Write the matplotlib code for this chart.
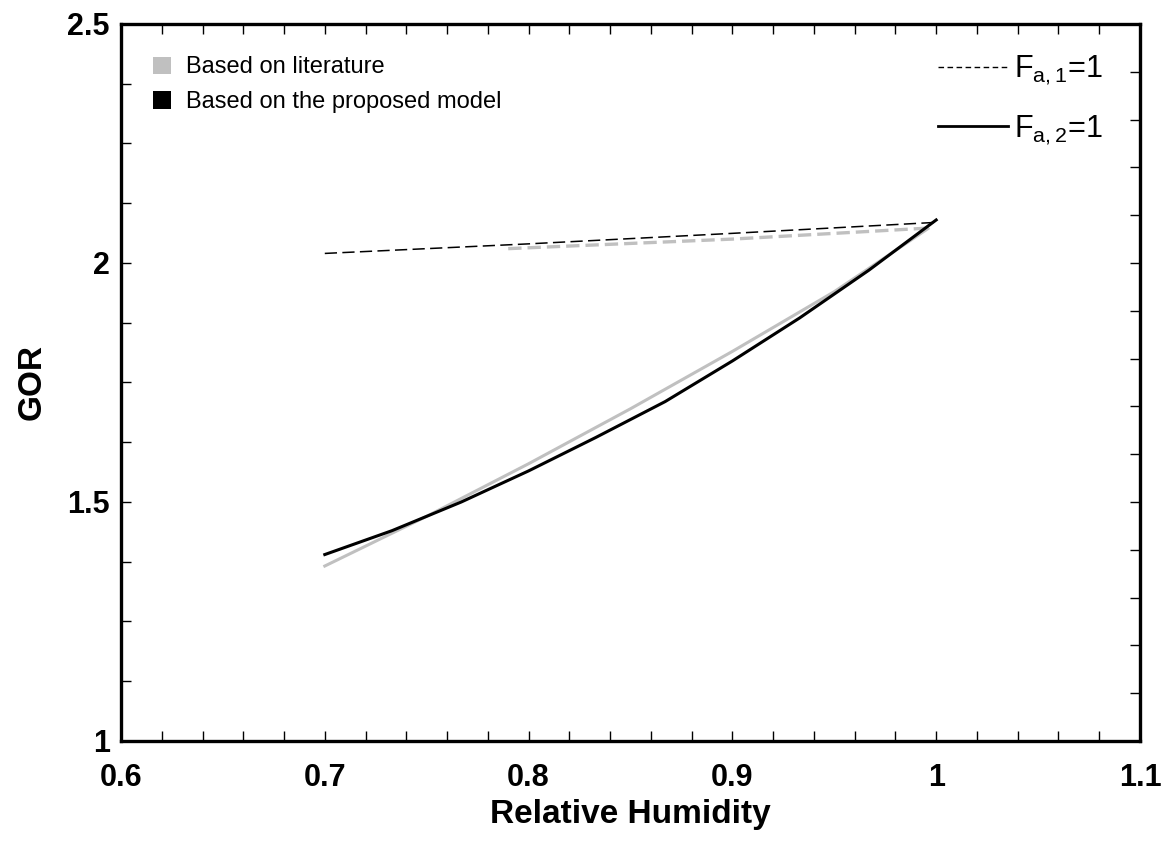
import numpy as np
import matplotlib
matplotlib.use("Agg")
import matplotlib.pyplot as plt
from matplotlib.patches import Patch
from matplotlib.lines import Line2D
from matplotlib.ticker import MultipleLocator

plt.rcParams['font.family'] = ['Liberation Sans', 'DejaVu Sans']
plt.rcParams['mathtext.fontset'] = 'custom'
plt.rcParams['mathtext.rm'] = 'Liberation Sans'

# GOR vs relative humidity
# F_a,1 = 1 (dashed)
rh_f1_model = [0.70, 0.80, 0.90, 1.00]
gor_f1_model = [2.020, 2.040, 2.062, 2.085]
rh_f1_lit = [0.79, 0.90, 0.996]
gor_f1_lit = [2.030, 2.050, 2.073]

# F_a,2 = 1 (solid)
rh_f2_model = [0.700, 0.733, 0.767, 0.800, 0.833, 0.867, 0.900, 0.933, 0.967, 1.000]
gor_f2_model = [1.390, 1.440, 1.500, 1.565, 1.635, 1.710, 1.795, 1.885, 1.985, 2.090]
rh_f2_lit = [0.70, 0.75, 0.80, 0.85, 0.90, 0.95, 0.996]
gor_f2_lit = [1.366, 1.470, 1.580, 1.695, 1.815, 1.940, 2.072]

GRAY = '#c0c0c0'

fig = plt.figure(figsize=(11.68, 8.42), dpi=100)
ax = fig.add_axes([0.1036, 0.12, 0.8724, 0.8515])

ax.plot(rh_f1_lit, gor_f1_lit, color=GRAY, lw=2.4, dashes=(4, 1.8))
ax.plot(rh_f1_model, gor_f1_model, color='black', lw=1.1, dashes=(8, 3.5))
ax.plot(rh_f2_lit, gor_f2_lit, color=GRAY, lw=2.2)
ax.plot(rh_f2_model, gor_f2_model, color='black', lw=2.2)

ax.set_xlim(0.6, 1.1)
ax.set_ylim(1.0, 2.5)
ax.xaxis.set_minor_locator(MultipleLocator(0.02))
ax.yaxis.set_minor_locator(MultipleLocator(0.125))
ax.set_xticks([0.6, 0.7, 0.8, 0.9, 1.0, 1.1])
ax.set_xticklabels(['0.6', '0.7', '0.8', '0.9', '1', '1.1'])
ax.set_yticks([1.0, 1.5, 2.0, 2.5])
ax.set_yticklabels(['1', '1.5', '2', '2.5'])

ax.tick_params(which='both', direction='in', top=True, right=False,
               length=7, width=1.0, labelsize=22)
ax.tick_params(axis='x', pad=16)
ax.tick_params(axis='y', pad=8)
for lab in ax.get_xticklabels() + ax.get_yticklabels():
    lab.set_fontweight('bold')
for sp in ax.spines.values():
    sp.set_linewidth(2.4)

# right axis carries its own 0.1 ticks
ax2 = ax.twinx()
ax2.set_ylim(1.0, 2.5)
ax2.yaxis.set_major_locator(MultipleLocator(0.1))
ax2.tick_params(direction='in', length=7, width=1.0, labelright=False)
for sp in ax2.spines.values():
    sp.set_visible(False)

ax.set_xlabel('Relative Humidity', fontsize=24, fontweight='bold', labelpad=4)
ax.set_ylabel('GOR', fontsize=24, fontweight='bold', labelpad=14)

src_handles = [Patch(facecolor=GRAY, edgecolor='none', label='Based on literature'),
               Patch(facecolor='black', edgecolor='none', label='Based on the proposed model')]
leg1 = ax2.legend(handles=src_handles, loc='upper left', bbox_to_anchor=(0.022, 0.968),
                  frameon=False, fontsize=17, handlelength=0.75, handleheight=0.75,
                  handletextpad=0.65, labelspacing=0.55, borderaxespad=0)
ax2.add_artist(leg1)

f_handles = [Line2D([], [], color='black', lw=1.0, dashes=(4, 2.5), label=r'$\mathrm{F}_{\mathrm{a,1}}$=1'),
             Line2D([], [], color='black', lw=2.0, label=r'$\mathrm{F}_{\mathrm{a,2}}$=1')]
ax2.legend(handles=f_handles, loc='upper right', bbox_to_anchor=(0.976, 0.975),
           frameon=False, fontsize=22, handlelength=2.3, handletextpad=0.2,
           labelspacing=0.85, borderaxespad=0)

fig.savefig('out.png', dpi=100)
